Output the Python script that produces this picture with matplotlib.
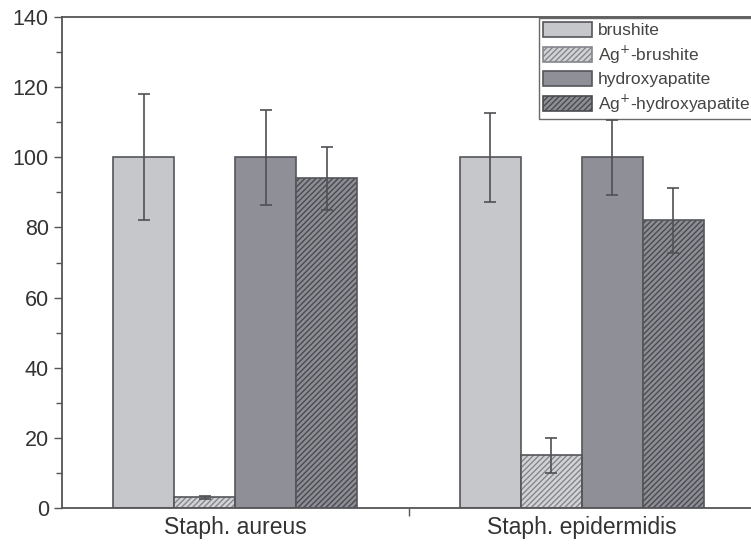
import numpy as np
import matplotlib
matplotlib.use('Agg')
import matplotlib.pyplot as plt
from matplotlib.patches import Patch

plt.rcParams['font.family'] = ['Liberation Sans', 'DejaVu Sans']

groups = ['Staph. aureus', 'Staph. epidermidis']
series = ['brushite', 'Ag$^{+}$-brushite', 'hydroxyapatite', 'Ag$^{+}$-hydroxyapatite']
values = [[100, 100], [3, 15], [100, 100], [94, 82]]
errors = [[18, 12.7], [0.5, 5], [13.5, 10.7], [9, 9.3]]

faces = ['#c6c7cb', '#d2d3d6', '#8f9097', '#8d8e95']
hatch_cols = [None, '#85868c', None, '#4a4b50']
edge = '#55565a'

fig = plt.figure(figsize=(7.51, 5.47), dpi=100)
ax = fig.add_axes([62/751, 1-508/547, (755-62)/751, (508-17)/547])

x = np.arange(1, len(groups)+1)
w = 0.176
handles = []
for i in range(len(series)):
    pos = x + (i-1.5)*w
    if hatch_cols[i] is None:
        ax.bar(pos, values[i], w, color=faces[i], edgecolor=edge, linewidth=1.2, zorder=2)
        handles.append(Patch(facecolor=faces[i], edgecolor=edge, linewidth=1.2, label=series[i]))
    else:
        ax.bar(pos, values[i], w, color=faces[i], edgecolor=hatch_cols[i], hatch='//////',
               linewidth=0, zorder=2)
        ax.bar(pos, values[i], w, fill=False, edgecolor=edge, linewidth=1.2, zorder=3)
        handles.append(Patch(facecolor=faces[i], edgecolor=hatch_cols[i], hatch='//////',
                             linewidth=1.2, label=series[i]))
    ax.errorbar(pos, values[i], yerr=errors[i], fmt='none', ecolor='#505055',
                elinewidth=1.2, capsize=4, capthick=1.2, zorder=4)

ax.set_xlim(0.5, 2.5)
ax.set_ylim(0, 140)
ax.set_yticks(np.arange(0, 141, 20))
ax.set_yticks(np.arange(10, 140, 20), minor=True)
ax.set_xticks(x)
ax.set_xticklabels(groups)
ax.set_xticks([1.5], minor=True)
ax.tick_params(axis='x', which='major', length=0, labelsize=16.5, pad=6, colors='#333333')
ax.tick_params(axis='x', which='minor', length=6, width=1, color='#555555', direction='out')
ax.tick_params(axis='y', which='major', length=6, width=1, labelsize=15.5, colors='#555555',
               labelcolor='#333333', direction='out')
ax.tick_params(axis='y', which='minor', length=4, width=1, color='#555555', direction='out')
for s in ax.spines.values():
    s.set_color('#555555')
    s.set_linewidth(1.3)

leg = ax.legend(handles=handles, loc='upper right', bbox_to_anchor=(1.0, 1.0),
                fontsize=12.5, frameon=True, fancybox=False, borderaxespad=0.05,
                handlelength=2.8, handleheight=0.9, handletextpad=0.35, labelspacing=0.3,
                borderpad=0.25)
leg.get_frame().set_edgecolor('#444444')
leg.get_frame().set_linewidth(1.0)
for t in leg.get_texts():
    t.set_color('#444444')

plt.savefig('out.png', dpi=100)
